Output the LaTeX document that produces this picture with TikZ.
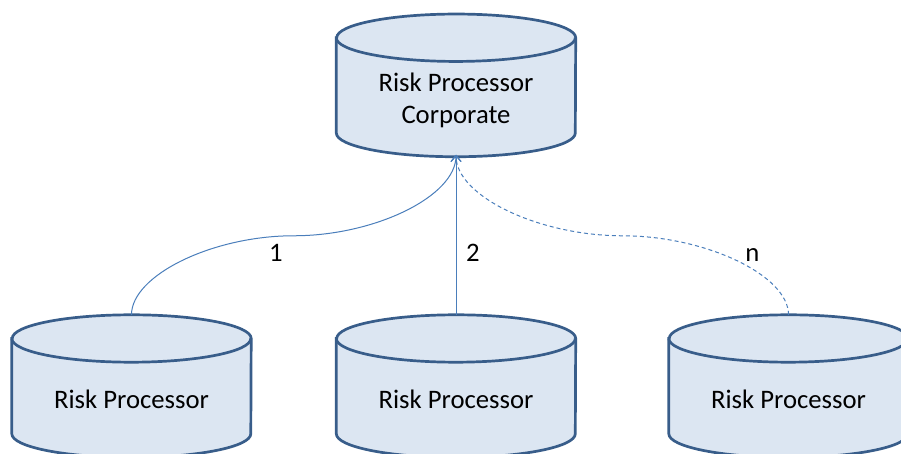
\documentclass[tikz,border=0pt]{standalone}
\usepackage{fontspec}
\setmainfont{Carlito}
\usetikzlibrary{arrows.meta,calc}
\definecolor{cylfill}{RGB}{220,230,242}
\definecolor{cylline}{RGB}{56,93,138}
\definecolor{connline}{RGB}{74,126,187}
\tikzset{
  dbbox/.style={rectangle, minimum width=239pt, minimum height=142.3pt, inner sep=0pt},
  dbline/.style={draw=cylline, line width=2.7pt},
  dbtext/.style={align=center, inner sep=0pt, anchor=base, font=\fontsize{26.7}{31.5}\selectfont},
  conn/.style={draw=connline, line width=1pt, shorten >=-2pt, -{Straight Barb[length=6pt,width=10pt]}},
  curvconn/.style={to path={let \p1=(\tikztostart), \p2=(\tikztotarget) in
    .. controls (\x1,{\y1+(\y2-\y1)/4}) and ({\x1+(\x2-\x1)/4},{(\y1+\y2)/2})
    .. ({(\x1+\x2)/2},{(\y1+\y2)/2})
    .. controls ({(\x1+\x2)/2+(\x2-\x1)/4},{(\y1+\y2)/2}) and (\x2,{\y2-(\y2-\y1)/4})
    .. (\x2,\y2) \tikztonodes}},
  lbl/.style={font=\fontsize{26.7}{31.5}\selectfont, inner sep=0pt, anchor=base}
}
\newcommand\dbshape[1]{%
  \path[dbline, fill=cylfill] ($(#1.north west)+(0,-23.7)$) -- ($(#1.south west)+(0,23.7)$)
    arc[start angle=180, end angle=360, x radius=119.5, y radius=23.7]
    -- ($(#1.north east)+(0,-23.7)$)
    arc[start angle=0, end angle=180, x radius=119.5, y radius=23.7] -- cycle;
  \path[dbline] ($(#1.north west)+(0,-23.7)$)
    arc[start angle=180, end angle=360, x radius=119.5, y radius=23.7];}
\begin{document}
\begin{tikzpicture}[x=1pt,y=1pt]
\useasboundingbox (0,0) rectangle (901,454);
\node[dbbox] (T) at (456,368.6) {};
\node[dbbox] (L) at (131.5,67.85) {};
\node[dbbox] (M) at (456,67.85) {};
\node[dbbox] (R) at (788.5,67.85) {};
\dbshape{T}\dbshape{L}\dbshape{M}\dbshape{R}
\node[dbtext] (Ttext) at (456,330.5) {Risk Processor\\Corporate};
\node[dbtext] (Ltext) at (131.5,45.7) {Risk Processor};
\node[dbtext] (Mtext) at (456,45.7) {Risk Processor};
\node[dbtext] (Rtext) at (788.5,45.7) {Risk Processor};
\draw[conn] (L.north) to[curvconn] (T.south);
\draw[conn] (M.north) -- (T.south);
\draw[conn, dash pattern=on 4pt off 3pt] (R.north) to[curvconn] (T.south);
\node[lbl] (l1) at (276,192) {1};
\node[lbl] (l2) at (473,192) {2};
\node[lbl] (ln) at (752.5,192) {n};
\end{tikzpicture}
\end{document}
